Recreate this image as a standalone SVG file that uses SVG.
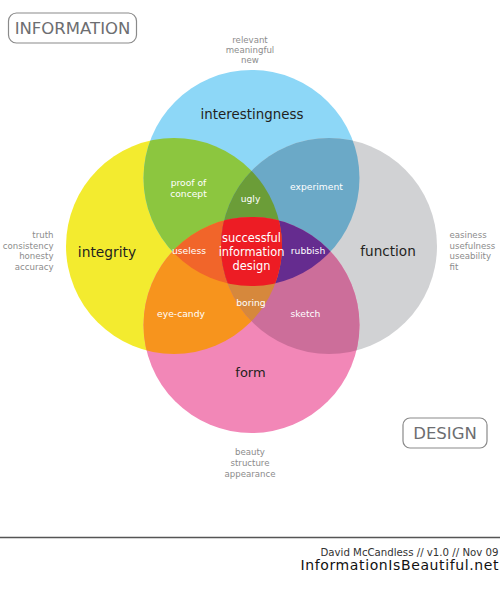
<svg xmlns="http://www.w3.org/2000/svg" width="500" height="592" viewBox="0 0 500 592">
<style>
text{font-family:"DejaVu Sans","Liberation Sans",sans-serif}
.cat{font-size:13.5px;fill:#231f20;text-anchor:middle}
.reg{font-size:9.2px;fill:#ffffff;text-anchor:middle}
.ctr{font-size:11.4px;fill:#ffffff;text-anchor:middle}
.side{font-size:8.6px;fill:#8c8c8c}
.box{fill:none;stroke:#8a8a8a;stroke-width:1.2}
.boxt{font-size:16.5px;fill:#6d6e71;text-anchor:middle}
</style>
<defs>
<clipPath id="cY"><circle cx="174" cy="246" r="108"/></clipPath>
<clipPath id="cB"><circle cx="251.5" cy="178" r="108"/></clipPath>
<clipPath id="cG"><circle cx="329" cy="246" r="108"/></clipPath>
<clipPath id="cP"><circle cx="251.5" cy="325" r="108"/></clipPath>
</defs>
<rect width="500" height="592" fill="#ffffff"/>

<g id="circles">
<circle id="integrity-circle" cx="174" cy="246" r="108" fill="#f3eb2f"/>
<circle id="interestingness-circle" cx="251.5" cy="178" r="108" fill="#8dd7f7"/>
<circle id="function-circle" cx="329" cy="246" r="108" fill="#d1d2d4"/>
<circle id="form-circle" cx="251.5" cy="325" r="108" fill="#f287b7"/>
<!-- pairs -->
<circle cx="251.5" cy="178" r="108" fill="#8cc63f" clip-path="url(#cY)"/>
<circle cx="329" cy="246" r="108" fill="#6ba9c7" clip-path="url(#cB)"/>
<circle cx="251.5" cy="325" r="108" fill="#f7941d" clip-path="url(#cY)"/>
<circle cx="251.5" cy="325" r="108" fill="#cc6e9a" clip-path="url(#cG)"/>
<!-- triples -->
<g clip-path="url(#cY)"><circle cx="329" cy="246" r="108" fill="#6b9d38" clip-path="url(#cB)"/></g>
<g clip-path="url(#cY)"><circle cx="251.5" cy="325" r="108" fill="#f1652a" clip-path="url(#cB)"/></g>
<g clip-path="url(#cG)"><circle cx="251.5" cy="325" r="108" fill="#652c8f" clip-path="url(#cB)"/></g>
<g clip-path="url(#cY)"><circle cx="251.5" cy="325" r="108" fill="#d6883c" clip-path="url(#cG)"/></g>
<!-- all four -->
<g clip-path="url(#cY)"><g clip-path="url(#cG)"><circle cx="251.5" cy="325" r="108" fill="#ed1c24" clip-path="url(#cB)"/></g></g>
</g>

<g id="information-label">
<rect class="box" x="8.5" y="13" width="128" height="30" rx="8"/>
<text class="boxt" x="72.5" y="34">INFORMATION</text>
</g>
<g id="design-label">
<rect class="box" x="403" y="418" width="84" height="30" rx="7"/>
<text class="boxt" x="445" y="438.5">DESIGN</text>
</g>

<g id="interestingness">
<text class="cat" x="252" y="119" style="font-size:13.4px">interestingness</text>
<text class="side" x="250" y="42.5" text-anchor="middle">relevant</text>
<text class="side" x="250" y="52.5" text-anchor="middle">meaningful</text>
<text class="side" x="250" y="62.5" text-anchor="middle">new</text>
</g>
<g id="integrity">
<text class="cat" x="107" y="257" style="font-size:13.8px">integrity</text>
<text class="side" x="53.5" y="238" text-anchor="end">truth</text>
<text class="side" x="53.5" y="248.5" text-anchor="end">consistency</text>
<text class="side" x="53.5" y="259" text-anchor="end">honesty</text>
<text class="side" x="53.5" y="270" text-anchor="end">accuracy</text>
</g>
<g id="function">
<text class="cat" x="388" y="256" style="font-size:13.6px">function</text>
<text class="side" x="449.5" y="238">easiness</text>
<text class="side" x="449.5" y="248.5">usefulness</text>
<text class="side" x="449.5" y="259">useability</text>
<text class="side" x="449.5" y="270">fit</text>
</g>
<g id="form">
<text class="cat" x="250.5" y="377" style="font-size:13px">form</text>
<text class="side" x="250" y="455" text-anchor="middle">beauty</text>
<text class="side" x="250" y="466" text-anchor="middle">structure</text>
<text class="side" x="250" y="476.5" text-anchor="middle">appearance</text>
</g>

<g id="proof-of-concept"><text class="reg" x="188.5" y="186">proof of</text><text class="reg" x="188.5" y="196.5">concept</text></g>
<g id="experiment"><text class="reg" x="316.5" y="189.5">experiment</text></g>
<g id="ugly"><text class="reg" x="250.5" y="201.5">ugly</text></g>
<g id="useless"><text class="reg" x="189" y="254">useless</text></g>
<g id="rubbish"><text class="reg" x="308" y="254">rubbish</text></g>
<g id="boring"><text class="reg" x="251" y="306">boring</text></g>
<g id="eye-candy"><text class="reg" x="181" y="316.5">eye-candy</text></g>
<g id="sketch"><text class="reg" x="305.5" y="316.5">sketch</text></g>
<g id="successful-information-design">
<text class="ctr" x="251.5" y="242">successful</text>
<text class="ctr" x="251.5" y="256">information</text>
<text class="ctr" x="251.5" y="270">design</text>
</g>

<g id="footer">
<line x1="0" y1="537.5" x2="500" y2="537.5" stroke="#555555" stroke-width="1.5"/>
<text x="498.5" y="555.5" text-anchor="end" style="font-size:10.2px;fill:#333333">David McCandless // v1.0 // Nov 09</text>
<text x="300.5" y="570" textLength="198" lengthAdjust="spacing" style="font-size:14px;fill:#111111">InformationIsBeautiful.net</text>
</g>
</svg>
